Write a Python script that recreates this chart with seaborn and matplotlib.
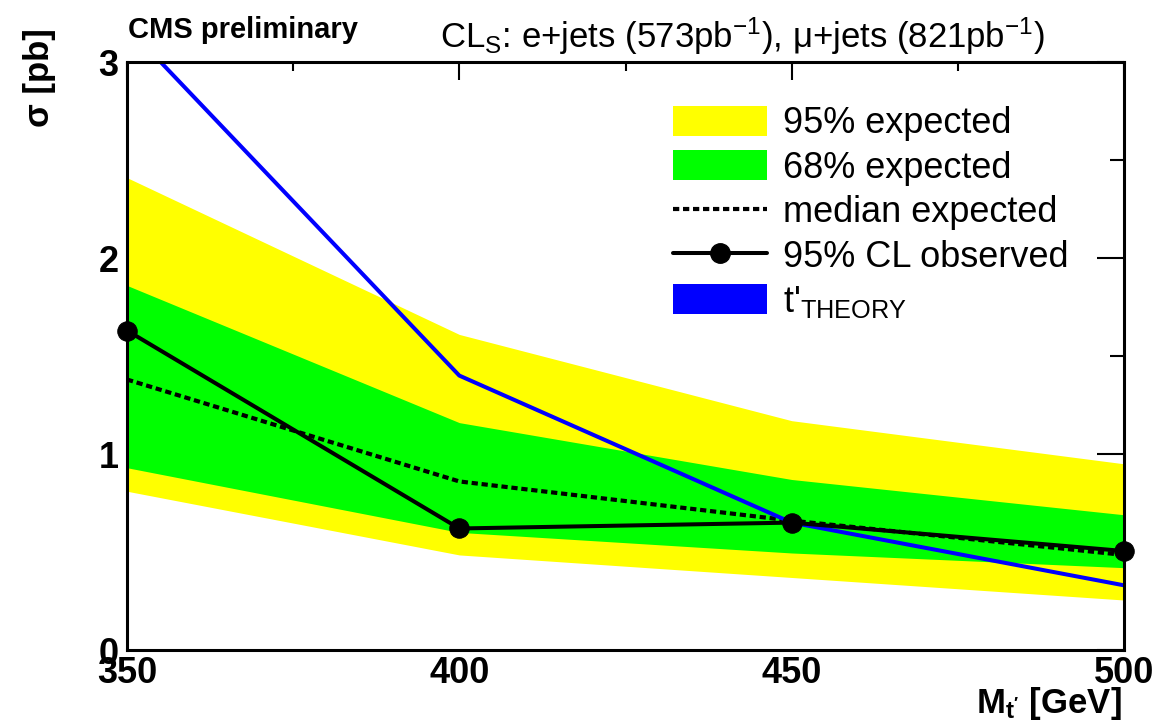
import numpy as np
import pandas as pd
import matplotlib
matplotlib.use("Agg")
import matplotlib.pyplot as plt
import seaborn as sns
from matplotlib.patches import Patch
from matplotlib.lines import Line2D
from matplotlib.ticker import MultipleLocator

# ---- data ----
mass = [350, 400, 450, 500]
exp95_lo = [0.81, 0.485, 0.37, 0.255]
exp95_hi = [2.41, 1.61, 1.17, 0.95]
exp68_lo = [0.93, 0.60, 0.495, 0.42]
exp68_hi = [1.86, 1.16, 0.87, 0.69]
median_exp = [1.38, 0.86, 0.66, 0.485]
observed = [1.63, 0.62, 0.65, 0.505]
theory = [3.18, 1.40, 0.65, 0.33]

x_ticks = [350, 400, 450, 500]
y_ticks = [0, 1, 2, 3]

sns.set_style("white")
plt.rcParams["font.family"] = ["Liberation Sans", "DejaVu Sans"]
plt.rcParams["mathtext.fontset"] = "custom"
plt.rcParams["mathtext.rm"] = "Liberation Sans"
plt.rcParams["mathtext.it"] = "Liberation Sans:italic"
plt.rcParams["mathtext.bf"] = "Liberation Sans:bold"
plt.rcParams["mathtext.default"] = "regular"
for k in ["text.color", "axes.labelcolor", "xtick.color", "ytick.color", "axes.edgecolor"]:
    plt.rcParams[k] = "black"

fig = plt.figure(figsize=(11.75, 7.23), dpi=100)
ax = fig.add_axes([127/1175, 73/723, (1124-127)/1175, (650-62)/723])

df = pd.DataFrame({"mass": mass, "median": median_exp, "observed": observed, "theory": theory})

ax.fill_between(mass, exp95_lo, exp95_hi, color="#ffff00", lw=0, zorder=1)
ax.fill_between(mass, exp68_lo, exp68_hi, color="#00ff00", lw=0, zorder=2)
sns.lineplot(data=df, x="mass", y="median", ax=ax, color="black", lw=3,
             linestyle=(0, (1.5, 0.9)), zorder=3)
sns.lineplot(data=df, x="mass", y="theory", ax=ax, color="#0000ff", lw=2.9, zorder=4)
sns.lineplot(data=df, x="mass", y="observed", ax=ax, color="black", lw=2.9,
             marker="o", markersize=14, markeredgecolor="black", zorder=5, clip_on=False)

ax.set_xlim(350, 500)
ax.set_ylim(0, 3)
ax.set_xticks(x_ticks)
ax.set_yticks(y_ticks)
ax.xaxis.set_minor_locator(MultipleLocator(25))
ax.yaxis.set_minor_locator(MultipleLocator(0.5))
ax.set_xlabel("")
ax.set_ylabel("")

for s in ax.spines.values():
    s.set_linewidth(2.2)
    s.set_color("black")
    s.set_zorder(10)

ax.tick_params(axis="both", which="both", direction="in", top=True, right=True,
               color="black", labelcolor="black", width=1.5)
ax.tick_params(axis="x", which="major", length=13, pad=4)
ax.tick_params(axis="x", which="minor", length=6.5)
ax.tick_params(axis="y", which="major", length=19.5, pad=6)
ax.tick_params(axis="y", which="minor", length=10)
for lab in ax.get_xticklabels() + ax.get_yticklabels():
    lab.set_fontweight("bold")
    lab.set_fontsize(26)

# labels
fig.text(1122/1175, 1 - 703/723, "M$_{t'}$ [GeV]", ha="right", va="center",
         fontsize=25, fontweight="bold")
fig.text(40/1175, 1 - 28/723, "σ [pb]", rotation=90, ha="center", va="top",
         fontsize=25, fontweight="bold")
fig.text(128/1175, 1 - 30/723, "CMS preliminary", ha="left", va="center",
         fontsize=21, fontweight="bold")
fig.text(742/1175, 1 - 36/723,
         r"CL$_{S}$: e+jets (573pb$^{-1}$), μ+jets (821pb$^{-1}$)",
         ha="center", va="center", fontsize=25)

handles = [
    Patch(facecolor="#ffff00", edgecolor="none"),
    Patch(facecolor="#00ff00", edgecolor="none"),
    Line2D([], [], color="black", lw=3, linestyle=(0, (1.5, 0.9))),
    Line2D([], [], color="black", lw=2.9, marker="o", markersize=14),
    Patch(facecolor="#0000ff", edgecolor="none"),
]
labels = ["95% expected", "68% expected", "median expected", "95% CL observed",
          "t'$_{THEORY}$"]
leg = ax.legend(handles, labels, loc="upper left", bbox_to_anchor=(673/1175, 1 - 106/723),
                bbox_transform=fig.transFigure, frameon=False, fontsize=26,
                handlelength=2.6, handleheight=0.9, handletextpad=0.45,
                labelspacing=0.25, borderpad=0, borderaxespad=0)

fig.savefig("out.png", dpi=100)
